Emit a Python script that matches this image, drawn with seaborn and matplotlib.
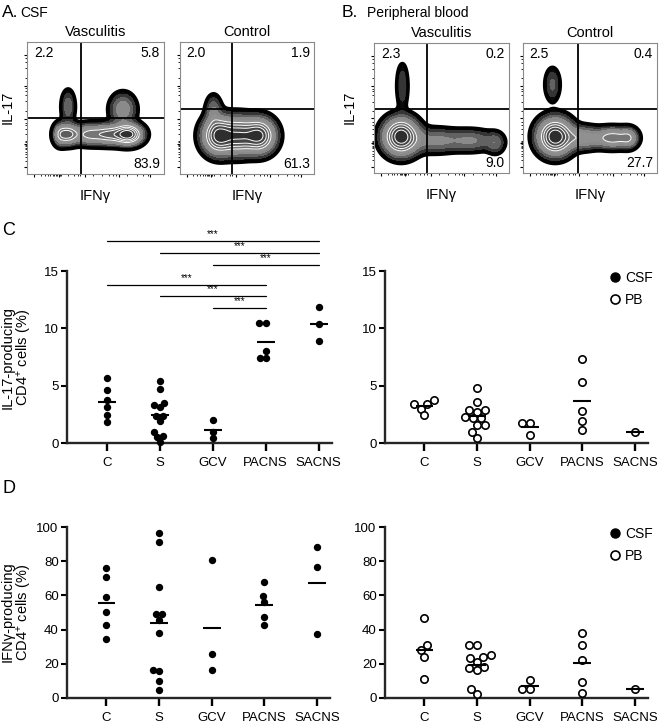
import numpy as np
import pandas as pd
import matplotlib
matplotlib.use("Agg")
import matplotlib.pyplot as plt
from matplotlib.lines import Line2D
from matplotlib.collections import PathCollection
import seaborn as sns

# ---------------- data ----------------
groups = ["C", "S", "GCV", "PACNS", "SACNS"]

il17_csf_C = [5.68, 4.65, 3.74, 3.18, 2.44, 1.85]
il17_csf_S = [5.41, 4.70, 3.50, 3.33, 3.13, 2.36, 2.36, 1.94, 0.99, 0.59, 0.56, 0.09]
il17_csf_GCV = [1.97, 0.97, 0.44]
il17_csf_PACNS = [10.49, 10.49, 8.03, 7.39, 7.45]
il17_csf_SACNS = [11.88, 10.35, 8.93]

il17_pb_C = [3.77, 3.39, 3.39, 2.99, 2.41]
il17_pb_S = [4.79, 3.59, 2.91, 2.74, 2.88, 2.29, 2.15, 2.15, 1.56, 1.56, 0.97, 0.47]
il17_pb_GCV = [1.76, 1.76, 0.74]
il17_pb_PACNS = [7.30, 5.28, 2.75, 1.94, 1.10]
il17_pb_SACNS = [0.95]

ifng_csf_C = [70.8, 75.8, 59.1, 50.1, 42.9, 34.5]
ifng_csf_S = [96.3, 91.4, 64.7, 48.9, 48.9, 45.8, 38.0, 16.6, 15.6, 9.9, 4.7]
ifng_csf_GCV = [80.5, 25.9, 16.2]
ifng_csf_PACNS = [67.8, 59.5, 56.1, 47.2, 42.7]
ifng_csf_SACNS = [88.3, 76.4, 37.4]

ifng_pb_C = [46.8, 30.8, 27.9, 24.0, 11.1]
ifng_pb_S = [31.0, 31.0, 25.1, 23.2, 24.2, 21.2, 17.5, 17.9, 16.2, 5.3, 2.3]
ifng_pb_GCV = [10.7, 5.3, 5.3]
ifng_pb_PACNS = [38.0, 31.2, 22.0, 9.4, 2.9]
ifng_pb_SACNS = [5.3]

# significance comparisons (IL-17, CSF)
sig_pairs = [("C", "SACNS"), ("S", "SACNS"), ("GCV", "SACNS"),
             ("C", "PACNS"), ("S", "PACNS"), ("GCV", "PACNS")]
sig_labels = ["***", "***", "***", "***", "***", "***"]
sig_heights = [17.6, 16.6, 15.5, 13.8, 12.8, 11.8]

# flow cytometry quadrant percentages (UL, UR, LR)
flow_titles = ["Vasculitis", "Control", "Vasculitis", "Control"]
flow_pcts = [("2.2", "5.8", "83.9"), ("2.0", "1.9", "61.3"),
             ("2.3", "0.2", "9.0"), ("2.5", "0.4", "27.7")]
flow_gates = [(0.394, 0.424), (0.388, 0.49), (0.393, 0.49), (0.41, 0.49)]
# population clusters (cx, cy, sx, sy, weight) in axis fractions
flow_pops_A_vasc = [(0.74, 0.30, 0.06, 0.045, 1.0), (0.60, 0.30, 0.07, 0.045, 0.55),
                    (0.45, 0.30, 0.07, 0.045, 0.45), (0.30, 0.30, 0.045, 0.045, 0.6),
                    (0.24, 0.30, 0.03, 0.05, 0.3), (0.30, 0.51, 0.03, 0.075, 0.19),
                    (0.70, 0.49, 0.055, 0.07, 0.3)]
flow_pops_A_ctrl = [(0.29, 0.29, 0.07, 0.08, 1.0), (0.59, 0.29, 0.07, 0.075, 0.95),
                    (0.44, 0.29, 0.07, 0.08, 0.75), (0.25, 0.48, 0.035, 0.07, 0.2)]
flow_pops_B_vasc = [(0.21, 0.67, 0.027, 0.11, 0.12), (0.20, 0.28, 0.075, 0.08, 1.0),
                    (0.45, 0.25, 0.11, 0.055, 0.22), (0.72, 0.25, 0.11, 0.05, 0.2),
                    (0.90, 0.23, 0.04, 0.05, 0.14)]
flow_pops_B_ctrl = [(0.22, 0.68, 0.035, 0.08, 0.14), (0.24, 0.28, 0.075, 0.08, 1.0),
                    (0.45, 0.27, 0.08, 0.05, 0.35), (0.67, 0.27, 0.08, 0.045, 0.5),
                    (0.79, 0.27, 0.04, 0.045, 0.3)]
flow_major_ticks = [0.05, 0.23, 0.42, 0.67, 0.90]
flow_minor_ticks = [0.10, 0.13, 0.15, 0.17, 0.19, 0.20, 0.21, 0.22, 0.24, 0.25,
                    0.30, 0.34, 0.37, 0.39, 0.48, 0.55, 0.60, 0.63, 0.65, 0.73,
                    0.80, 0.85, 0.88]

# ---------------- style ----------------
sns.set_theme(style="ticks")
plt.rcParams["font.family"] = ["Liberation Sans", "DejaVu Sans"]
plt.rcParams["mathtext.fontset"] = "custom"
plt.rcParams["mathtext.rm"] = "Liberation Sans"
plt.rcParams["mathtext.it"] = "Liberation Sans:italic"
plt.rcParams["mathtext.bf"] = "Liberation Sans:bold"
plt.rcParams["text.color"] = "black"
plt.rcParams["axes.labelcolor"] = "black"
plt.rcParams["xtick.color"] = "black"
plt.rcParams["ytick.color"] = "black"

W, H = 660, 724
fig = plt.figure(figsize=(W / 100, H / 100), dpi=100)


def px_axes(x0, y0, x1, y1):
    return fig.add_axes([x0 / W, 1 - y1 / H, (x1 - x0) / W, (y1 - y0) / H])


# ---------------- flow panels ----------------
def draw_flow(ax, pops, gate, title, pcts):
    gx = np.linspace(0, 1, 260)
    X, Y = np.meshgrid(gx, gx)
    Z = np.zeros_like(X)
    for cx, cy, sx, sy, w in pops:
        Z += w * np.exp(-((X - cx) ** 2 / (2 * sx ** 2) + (Y - cy) ** 2 / (2 * sy ** 2)))
    Z /= Z.max()
    levels = [0.035, 0.07, 0.12, 0.19, 0.28, 0.39, 0.52, 0.66, 0.82, 1.01]
    cols = ["#0a0a0a", "#353535", "#626262", "#8a8a8a", "#909090",
            "#767676", "#5c5c5c", "#454545", "#2e2e2e"]
    ax.contourf(X, Y, Z, levels=levels, colors=cols)
    ax.contour(X, Y, Z, levels=levels[5:-1], colors="white", linewidths=0.7)
    ax.contour(X, Y, Z, levels=[levels[0]], colors="black", linewidths=2.6)
    ax.axvline(gate[0], color="black", lw=1.3)
    ax.axhline(gate[1], color="black", lw=1.3)
    ax.set_xlim(0, 1)
    ax.set_ylim(0, 1)
    for s in ax.spines.values():
        s.set_color("#8a8a8a")
        s.set_linewidth(0.8)
    ax.set_xticks(flow_major_ticks)
    ax.set_yticks(flow_major_ticks)
    ax.set_xticks(flow_minor_ticks, minor=True)
    ax.set_yticks(flow_minor_ticks, minor=True)
    ax.tick_params(which="major", length=2.5, width=0.8, labelleft=False, labelbottom=False)
    ax.tick_params(which="minor", length=1.3, width=0.6)
    ax.set_title(title, fontsize=10.5, pad=4)
    ax.text(0.05, 0.97, pcts[0], transform=ax.transAxes, ha="left", va="top", fontsize=10)
    ax.text(0.97, 0.97, pcts[1], transform=ax.transAxes, ha="right", va="top", fontsize=10)
    ax.text(0.97, 0.02, pcts[2], transform=ax.transAxes, ha="right", va="bottom", fontsize=10)
    ax.text(0.5, -0.17, "IFNγ", transform=ax.transAxes, ha="center", va="center", fontsize=10.5)


flow_boxes = [(27, 42, 164, 174), (180, 42, 314, 174), (374, 43, 509, 173), (523, 43, 657, 173)]
flow_pops = [flow_pops_A_vasc, flow_pops_A_ctrl, flow_pops_B_vasc, flow_pops_B_ctrl]
for box, pops, gate, title, pcts in zip(flow_boxes, flow_pops, flow_gates, flow_titles, flow_pcts):
    draw_flow(px_axes(*box), pops, gate, title, pcts)

fig.text(8 / W, 1 - 107 / H, "IL-17", rotation=90, ha="center", va="center", fontsize=10.5)
fig.text(350 / W, 1 - 107 / H, "IL-17", rotation=90, ha="center", va="center", fontsize=10.5)

fig.text(2 / W, 1 - 17 / H, "A.", fontsize=12.5, va="baseline")
fig.text(20 / W, 1 - 17 / H, "CSF", fontsize=10, va="baseline")
fig.text(342 / W, 1 - 17 / H, "B.", fontsize=12.5, va="baseline")
fig.text(367 / W, 1 - 17 / H, "Peripheral blood", fontsize=10, va="baseline")
fig.text(2 / W, 1 - 235 / H, "C", fontsize=13, va="baseline")
fig.text(2 / W, 1 - 493 / H, "D", fontsize=13, va="baseline")


# ---------------- scatter panels ----------------
def make_df(lists):
    rows = []
    for g, vals in zip(groups, lists):
        for v in vals:
            rows.append({"group": g, "value": v})
    return pd.DataFrame(rows)


swarm_axes = []


def scatter_panel(ax, lists, ymax, yticks, filled):
    df = make_df(lists)
    if filled:
        sns.swarmplot(data=df, x="group", y="value", order=groups, ax=ax,
                      color="black", size=4.3, linewidth=0, warn_thresh=1)
    else:
        sns.swarmplot(data=df, x="group", y="value", order=groups, ax=ax,
                      color="white", edgecolor="black", linewidth=1.2, size=4.3,
                      warn_thresh=1)
    swarm_axes.append(ax)
    means = df.groupby("group")["value"].mean()
    for i, g in enumerate(groups):
        ax.hlines(means[g], i - 0.17, i + 0.17, color="black", lw=1.5, zorder=4)
    ax.set_xlim(-0.75, 4.25)
    ax.set_ylim(0, ymax)
    ax.set_yticks(yticks)
    ax.set_xlabel("")
    ax.set_ylabel("")
    sns.despine(ax=ax)
    ax.spines["left"].set_linewidth(1.7)
    ax.spines["bottom"].set_linewidth(1.7)
    ax.tick_params(axis="y", length=4, width=1.5, labelsize=9.5, pad=2)
    ax.tick_params(axis="x", length=6, width=1.7, labelsize=9.5, pad=4)


def add_legend(ax):
    handles = [Line2D([], [], ls="none", marker="o", ms=6.5, mfc="black", mec="black"),
               Line2D([], [], ls="none", marker="o", ms=6.5, mfc="white", mec="black", mew=1.2)]
    ax.legend(handles, ["CSF", "PB"], loc="upper left", bbox_to_anchor=(0.855, 1.0),
              frameon=False, fontsize=10, handlelength=0.8, handletextpad=0.3,
              labelspacing=0.55, borderpad=0, borderaxespad=0)


axC1 = px_axes(67, 271, 332, 443)
scatter_panel(axC1, [il17_csf_C, il17_csf_S, il17_csf_GCV, il17_csf_PACNS, il17_csf_SACNS],
              15, [0, 5, 10, 15], True)
axC2 = px_axes(385, 271, 648, 443)
scatter_panel(axC2, [il17_pb_C, il17_pb_S, il17_pb_GCV, il17_pb_PACNS, il17_pb_SACNS],
              15, [0, 5, 10, 15], False)
add_legend(axC2)

axD1 = px_axes(67, 527, 330, 698)
scatter_panel(axD1, [ifng_csf_C, ifng_csf_S, ifng_csf_GCV, ifng_csf_PACNS, ifng_csf_SACNS],
              100, [0, 20, 40, 60, 80, 100], True)
axD2 = px_axes(385, 527, 648, 698)
scatter_panel(axD2, [ifng_pb_C, ifng_pb_S, ifng_pb_GCV, ifng_pb_PACNS, ifng_pb_SACNS],
              100, [0, 20, 40, 60, 80, 100], False)
add_legend(axD2)

# significance bars
for (a, b), lab, h in zip(sig_pairs, sig_labels, sig_heights):
    x0, x1 = groups.index(a), groups.index(b)
    axC1.plot([x0, x1], [h, h], color="black", lw=0.9, clip_on=False)
    axC1.text((x0 + x1) / 2, h + 0.15, lab, ha="center", va="bottom", fontsize=7,
              clip_on=False)

fig.text(17 / W, 1 - 357 / H, "IL-17-producing\nCD4$^{+}$ cells (%)", rotation=90,
         ha="center", va="center", fontsize=10.5, linespacing=1.0, multialignment="center")
fig.text(17 / W, 1 - 612 / H, "IFNγ-producing\nCD4$^{+}$ cells (%)", rotation=90,
         ha="center", va="center", fontsize=10.5, linespacing=1.0, multialignment="center")

# compute the swarm layout with a compact spacing, then enlarge the dots (overlapping, as in the original)
fig.canvas.draw()
for ax in swarm_axes:
    for c in ax.collections:
        if isinstance(c, PathCollection):
            if "draw" in c.__dict__:
                del c.__dict__["draw"]
            c.set_sizes([5.3 ** 2])
            c.set_clip_on(False)

fig.savefig("out.png", dpi=100, facecolor="white")
